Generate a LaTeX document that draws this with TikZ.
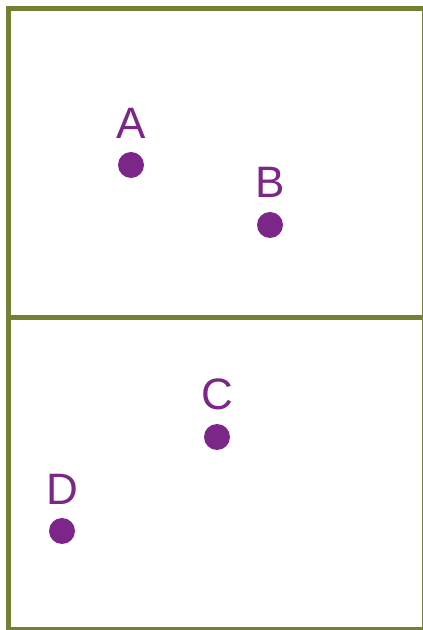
\documentclass[tikz,border=0pt]{standalone}
\usepackage{fontspec}
\setmainfont{Liberation Sans}
\definecolor{olivec}{RGB}{118,128,52}
\definecolor{purp}{RGB}{125,38,137}
\tikzset{
  dot/.style={circle, fill=purp, inner sep=0pt, minimum size=26pt},
  lbl/.style={text=purp, font=\fontsize{44}{44}\selectfont, anchor=base, inner sep=0pt},
  frame/.style={draw=olivec, line width=5pt}
}
\begin{document}
\begin{tikzpicture}[x=1pt,y=1pt]
\useasboundingbox (0,0) rectangle (423,630);
\clip (0,0) rectangle (423,630);
\draw[frame] (8.5,0.5) rectangle (424.5,621.5);
\coordinate (ml) at (8.5,312.5);
\coordinate (mr) at (424.5,312.5);
\draw[frame] (ml) -- (mr);
\node[dot] (a) at (131,465) {};
\node[dot] (b) at (270,405) {};
\node[dot] (c) at (217,193) {};
\node[dot] (d) at (62,99) {};
\node[lbl] (la) at ([yshift=26pt]a.center) {A};
\node[lbl] (lb) at ([yshift=27pt]b.center) {B};
\node[lbl] (lc) at ([yshift=27pt]c.center) {C};
\node[lbl] (ld) at ([yshift=26pt]d.center) {D};
\end{tikzpicture}
\end{document}
